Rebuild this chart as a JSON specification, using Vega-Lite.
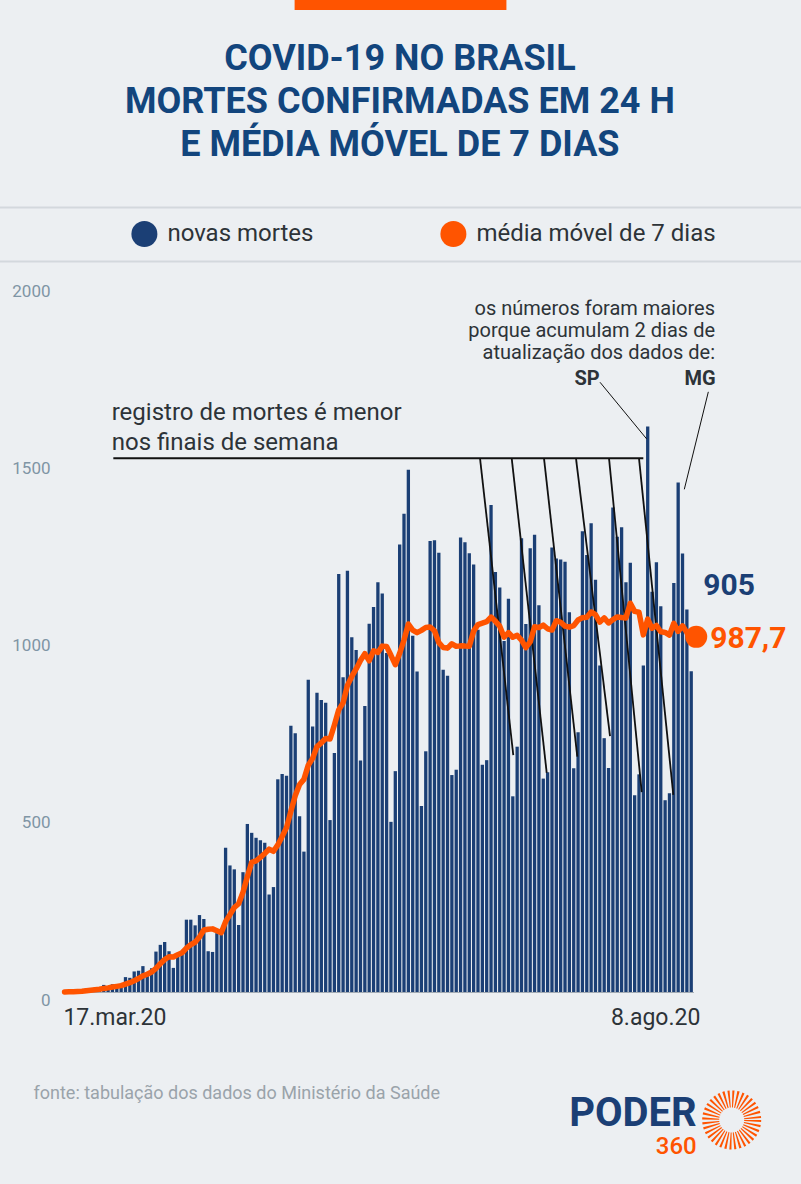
{
  "$schema": "https://vega.github.io/schema/vega-lite/v6.json",
  "width": 631,
  "height": 709,
  "autosize": "none",
  "padding": {"left": 62.4, "top": 283, "right": 107.6, "bottom": 192},
  "background": "#eceff2",
  "title": {
    "text": ["COVID-19 NO BRASIL", "MORTES CONFIRMADAS EM 24 H", "E MÉDIA MÓVEL DE 7 DIAS"],
    "font": "Roboto",
    "fontSize": 36,
    "fontWeight": "bold",
    "color": "#12457d",
    "lineHeight": 43,
    "anchor": "middle",
    "frame": "group",
    "baseline": "top",
    "dx": 22,
    "offset": -165
  },
  "datasets": {
    "covid": [
      {"data": "2020-03-17", "novas": 1, "media": 0.1},
      {"data": "2020-03-18", "novas": 3, "media": 0.6},
      {"data": "2020-03-19", "novas": 2, "media": 0.9},
      {"data": "2020-03-20", "novas": 5, "media": 1.6},
      {"data": "2020-03-21", "novas": 4, "media": 2.1},
      {"data": "2020-03-22", "novas": 10, "media": 3.6},
      {"data": "2020-03-23", "novas": 9, "media": 4.9},
      {"data": "2020-03-24", "novas": 12, "media": 6.4},
      {"data": "2020-03-25", "novas": 11, "media": 7.6},
      {"data": "2020-03-26", "novas": 20, "media": 10.1},
      {"data": "2020-03-27", "novas": 15, "media": 11.6},
      {"data": "2020-03-28", "novas": 22, "media": 14.1},
      {"data": "2020-03-29", "novas": 22, "media": 15.9},
      {"data": "2020-03-30", "novas": 23, "media": 17.9},
      {"data": "2020-03-31", "novas": 42, "media": 22.1},
      {"data": "2020-04-01", "novas": 40, "media": 26.3},
      {"data": "2020-04-02", "novas": 58, "media": 31.7},
      {"data": "2020-04-03", "novas": 60, "media": 38.1},
      {"data": "2020-04-04", "novas": 73, "media": 45.4},
      {"data": "2020-04-05", "novas": 54, "media": 50.0},
      {"data": "2020-04-06", "novas": 67, "media": 56.3},
      {"data": "2020-04-07", "novas": 114, "media": 66.6},
      {"data": "2020-04-08", "novas": 133, "media": 79.9},
      {"data": "2020-04-09", "novas": 141, "media": 91.7},
      {"data": "2020-04-10", "novas": 115, "media": 99.6},
      {"data": "2020-04-11", "novas": 68, "media": 98.9},
      {"data": "2020-04-12", "novas": 99, "media": 105.3},
      {"data": "2020-04-13", "novas": 105, "media": 110.7},
      {"data": "2020-04-14", "novas": 204, "media": 123.6},
      {"data": "2020-04-15", "novas": 204, "media": 133.7},
      {"data": "2020-04-16", "novas": 188, "media": 140.4},
      {"data": "2020-04-17", "novas": 217, "media": 155.0},
      {"data": "2020-04-18", "novas": 206, "media": 174.7},
      {"data": "2020-04-19", "novas": 115, "media": 177.0},
      {"data": "2020-04-20", "novas": 113, "media": 178.1},
      {"data": "2020-04-21", "novas": 166, "media": 172.7},
      {"data": "2020-04-22", "novas": 165, "media": 167.1},
      {"data": "2020-04-23", "novas": 407, "media": 198.4},
      {"data": "2020-04-24", "novas": 357, "media": 218.4},
      {"data": "2020-04-25", "novas": 346, "media": 238.4},
      {"data": "2020-04-26", "novas": 189, "media": 249.0},
      {"data": "2020-04-27", "novas": 338, "media": 281.1},
      {"data": "2020-04-28", "novas": 474, "media": 325.1},
      {"data": "2020-04-29", "novas": 449, "media": 365.7},
      {"data": "2020-04-30", "novas": 435, "media": 369.7},
      {"data": "2020-05-01", "novas": 428, "media": 379.9},
      {"data": "2020-05-02", "novas": 421, "media": 390.6},
      {"data": "2020-05-03", "novas": 275, "media": 402.9},
      {"data": "2020-05-04", "novas": 296, "media": 396.9},
      {"data": "2020-05-05", "novas": 600, "media": 414.9},
      {"data": "2020-05-06", "novas": 615, "media": 438.6},
      {"data": "2020-05-07", "novas": 610, "media": 463.6},
      {"data": "2020-05-08", "novas": 751, "media": 509.7},
      {"data": "2020-05-09", "novas": 730, "media": 553.9},
      {"data": "2020-05-10", "novas": 496, "media": 585.4},
      {"data": "2020-05-11", "novas": 396, "media": 599.7},
      {"data": "2020-05-12", "novas": 881, "media": 639.9},
      {"data": "2020-05-13", "novas": 749, "media": 659.0},
      {"data": "2020-05-14", "novas": 844, "media": 692.4},
      {"data": "2020-05-15", "novas": 824, "media": 702.9},
      {"data": "2020-05-16", "novas": 816, "media": 715.1},
      {"data": "2020-05-17", "novas": 485, "media": 713.6},
      {"data": "2020-05-18", "novas": 674, "media": 753.3},
      {"data": "2020-05-19", "novas": 1179, "media": 795.9},
      {"data": "2020-05-20", "novas": 888, "media": 815.7},
      {"data": "2020-05-21", "novas": 1188, "media": 864.9},
      {"data": "2020-05-22", "novas": 1001, "media": 890.1},
      {"data": "2020-05-23", "novas": 965, "media": 911.4},
      {"data": "2020-05-24", "novas": 653, "media": 935.4},
      {"data": "2020-05-25", "novas": 807, "media": 954.4},
      {"data": "2020-05-26", "novas": 1039, "media": 934.4},
      {"data": "2020-05-27", "novas": 1086, "media": 962.7},
      {"data": "2020-05-28", "novas": 1156, "media": 958.1},
      {"data": "2020-05-29", "novas": 1124, "media": 975.7},
      {"data": "2020-05-30", "novas": 956, "media": 974.4},
      {"data": "2020-05-31", "novas": 480, "media": 949.7},
      {"data": "2020-06-01", "novas": 623, "media": 923.4},
      {"data": "2020-06-02", "novas": 1262, "media": 955.3},
      {"data": "2020-06-03", "novas": 1349, "media": 992.9},
      {"data": "2020-06-04", "novas": 1473, "media": 1038.1},
      {"data": "2020-06-05", "novas": 1005, "media": 1021.1},
      {"data": "2020-06-06", "novas": 904, "media": 1013.7},
      {"data": "2020-06-07", "novas": 525, "media": 1020.1},
      {"data": "2020-06-08", "novas": 679, "media": 1028.1},
      {"data": "2020-06-09", "novas": 1272, "media": 1029.6},
      {"data": "2020-06-10", "novas": 1274, "media": 1018.9},
      {"data": "2020-06-11", "novas": 1239, "media": 985.4},
      {"data": "2020-06-12", "novas": 909, "media": 971.7},
      {"data": "2020-06-13", "novas": 892, "media": 970.0},
      {"data": "2020-06-14", "novas": 612, "media": 982.4},
      {"data": "2020-06-15", "novas": 627, "media": 975.0},
      {"data": "2020-06-16", "novas": 1282, "media": 976.4},
      {"data": "2020-06-17", "novas": 1269, "media": 975.7},
      {"data": "2020-06-18", "novas": 1238, "media": 975.6},
      {"data": "2020-06-19", "novas": 1206, "media": 1018.0},
      {"data": "2020-06-20", "novas": 1022, "media": 1036.6},
      {"data": "2020-06-21", "novas": 641, "media": 1040.7},
      {"data": "2020-06-22", "novas": 654, "media": 1044.6},
      {"data": "2020-06-23", "novas": 1374, "media": 1057.7},
      {"data": "2020-06-24", "novas": 1185, "media": 1045.7},
      {"data": "2020-06-25", "novas": 1141, "media": 1031.9},
      {"data": "2020-06-26", "novas": 990, "media": 1001.0},
      {"data": "2020-06-27", "novas": 1109, "media": 1013.4},
      {"data": "2020-06-28", "novas": 552, "media": 1000.7},
      {"data": "2020-06-29", "novas": 692, "media": 1006.1},
      {"data": "2020-06-30", "novas": 1280, "media": 992.7},
      {"data": "2020-07-01", "novas": 1038, "media": 971.7},
      {"data": "2020-07-02", "novas": 1252, "media": 987.6},
      {"data": "2020-07-03", "novas": 1290, "media": 1030.4},
      {"data": "2020-07-04", "novas": 1091, "media": 1027.9},
      {"data": "2020-07-05", "novas": 602, "media": 1035.0},
      {"data": "2020-07-06", "novas": 620, "media": 1024.7},
      {"data": "2020-07-07", "novas": 1254, "media": 1021.0},
      {"data": "2020-07-08", "novas": 1223, "media": 1047.4},
      {"data": "2020-07-09", "novas": 1220, "media": 1042.9},
      {"data": "2020-07-10", "novas": 1214, "media": 1032.0},
      {"data": "2020-07-11", "novas": 1071, "media": 1029.1},
      {"data": "2020-07-12", "novas": 631, "media": 1033.3},
      {"data": "2020-07-13", "novas": 733, "media": 1049.4},
      {"data": "2020-07-14", "novas": 1300, "media": 1056.0},
      {"data": "2020-07-15", "novas": 1233, "media": 1057.4},
      {"data": "2020-07-16", "novas": 1322, "media": 1072.0},
      {"data": "2020-07-17", "novas": 1163, "media": 1064.7},
      {"data": "2020-07-18", "novas": 921, "media": 1043.3},
      {"data": "2020-07-19", "novas": 716, "media": 1055.4},
      {"data": "2020-07-20", "novas": 632, "media": 1041.0},
      {"data": "2020-07-21", "novas": 1367, "media": 1050.6},
      {"data": "2020-07-22", "novas": 1284, "media": 1057.9},
      {"data": "2020-07-23", "novas": 1311, "media": 1056.3},
      {"data": "2020-07-24", "novas": 1156, "media": 1055.3},
      {"data": "2020-07-25", "novas": 1211, "media": 1096.7},
      {"data": "2020-07-26", "novas": 555, "media": 1073.7},
      {"data": "2020-07-27", "novas": 614, "media": 1071.1},
      {"data": "2020-07-28", "novas": 921, "media": 1007.4},
      {"data": "2020-07-29", "novas": 1595, "media": 1051.9},
      {"data": "2020-07-30", "novas": 1129, "media": 1025.9},
      {"data": "2020-07-31", "novas": 1212, "media": 1033.9},
      {"data": "2020-08-01", "novas": 1088, "media": 1016.3},
      {"data": "2020-08-02", "novas": 541, "media": 1014.3},
      {"data": "2020-08-03", "novas": 561, "media": 1006.7},
      {"data": "2020-08-04", "novas": 1154, "media": 1040.0},
      {"data": "2020-08-05", "novas": 1437, "media": 1017.4},
      {"data": "2020-08-06", "novas": 1237, "media": 1032.9},
      {"data": "2020-08-07", "novas": 1079, "media": 1013.9},
      {"data": "2020-08-08", "novas": 905, "media": 987.7}
    ],
    "faixa": [
      {"de": "2020-05-08T20:40:00Z", "ate": "2020-06-26T12:45:00Z", "topo": 2800, "base": 2770}
    ],
    "separadores": [
      {"de": "2020-02-01T00:00:00Z", "ate": "2020-10-01T00:00:00Z", "nivel": 2213},
      {"de": "2020-02-01T00:00:00Z", "ate": "2020-10-01T00:00:00Z", "nivel": 2060.6}
    ],
    "registro": [
      {"de": "2020-03-28T04:50:00Z", "ate": "2020-07-27T23:45:00Z", "nivel": 1505.5}
    ],
    "fins_de_semana": [
      {"de": "2020-06-20T11:15:00Z", "ate": "2020-06-28T02:40:00Z", "topo": 1505.5, "base": 668},
      {"de": "2020-06-27T18:00:00Z", "ate": "2020-07-05T19:00:00Z", "topo": 1505.5, "base": 618},
      {"de": "2020-07-05T04:05:00Z", "ate": "2020-07-12T19:40:00Z", "topo": 1505.5, "base": 664},
      {"de": "2020-07-12T12:30:00Z", "ate": "2020-07-20T08:10:00Z", "topo": 1505.5, "base": 722},
      {"de": "2020-07-20T02:40:00Z", "ate": "2020-07-27T14:55:00Z", "topo": 1505.5, "base": 564},
      {"de": "2020-07-27T00:00:00Z", "ate": "2020-08-03T21:10:00Z", "topo": 1505.5, "base": 556}
    ],
    "acumulados": [
      {"uf": "SP", "de": "2020-07-18T01:00:00Z", "topo": 1720, "ate": "2020-07-28T18:30:00Z", "base": 1560},
      {"uf": "MG", "de": "2020-08-11T22:20:00Z", "topo": 1693, "ate": "2020-08-06T09:50:00Z", "base": 1418}
    ]
  },
  "data": {"name": "covid"},
  "layer": [
    {
      "data": {"name": "faixa"},
      "mark": {"type": "rect", "color": "#ff5400"},
      "encoding": {
        "x": {"field": "de", "type": "temporal"},
        "x2": {"field": "ate"},
        "y": {"field": "topo", "type": "quantitative"},
        "y2": {"field": "base"}
      }
    },
    {
      "data": {"name": "separadores"},
      "mark": {"type": "rule", "color": "#d3d8dd", "strokeWidth": 2},
      "encoding": {
        "x": {"field": "de", "type": "temporal"},
        "x2": {"field": "ate"},
        "y": {"field": "nivel", "type": "quantitative"}
      }
    },
    {
      "mark": {"type": "bar", "width": 3.3},
      "encoding": {
        "x": {
          "field": "data",
          "type": "temporal",
          "scale": {
            "type": "utc",
            "padding": 0,
            "domain": [
              {"year": 2020, "month": 3, "date": 16, "hours": 12, "utc": true},
              {"year": 2020, "month": 8, "date": 8, "hours": 12, "utc": true}
            ]
          },
          "axis": {
            "title": "fonte: tabulação dos dados do Ministério da Saúde",
            "titleFont": "Roboto",
            "titleFontSize": 18,
            "titleFontWeight": "normal",
            "titleColor": "#9aa3aa",
            "titleAnchor": "start",
            "titleAlign": "left",
            "titleBaseline": "middle",
            "titleX": -29.4,
            "titleY": 101,
            "values": [
              {"year": 2020, "month": 3, "date": 16, "hours": 12, "utc": true},
              {"year": 2020, "month": 8, "date": 8, "hours": 12, "utc": true}
            ],
            "labelExpr": "datum.value < 1590000000000 ? '17.mar.20' : '8.ago.20'",
            "labelFlush": true,
            "labelFlushOffset": 3,
            "labelOffset": 3.5,
            "labelFont": "Roboto",
            "labelFontSize": 23,
            "labelColor": "#2d3338",
            "labelPadding": 14,
            "ticks": false,
            "grid": false,
            "domainColor": "#a3abb3",
            "domainWidth": 1
          }
        },
        "y": {
          "field": "novas",
          "type": "quantitative",
          "scale": {"domain": [0, 2000], "nice": false},
          "axis": {
            "title": null,
            "values": [0, 500, 1000, 1500, 2000],
            "format": "d",
            "domain": false,
            "ticks": false,
            "grid": false,
            "labelFont": "Roboto",
            "labelFontSize": 17,
            "labelColor": "#7f95a5",
            "labelPadding": 12.4,
            "labelBaseline": "top"
          }
        },
        "color": {
          "datum": "novas mortes",
          "type": "nominal",
          "scale": {
            "domain": ["novas mortes", "média móvel de 7 dias"],
            "range": ["#1b3f75", "#ff5400"]
          },
          "legend": {
            "title": null,
            "orient": "none",
            "legendX": 69,
            "legendY": -62,
            "direction": "horizontal",
            "padding": 0,
            "symbolType": "circle",
            "symbolSize": 676,
            "symbolStrokeWidth": 0,
            "symbolOpacity": 1,
            "labelFont": "Roboto",
            "labelFontSize": 24,
            "labelColor": "#2d3338",
            "labelOffset": 10,
            "labelLimit": 400,
            "columnPadding": 126
          }
        }
      }
    },
    {
      "data": {"name": "registro"},
      "mark": {"type": "rule", "color": "#111111", "strokeWidth": 2},
      "encoding": {
        "x": {"field": "de", "type": "temporal"},
        "x2": {"field": "ate"},
        "y": {"field": "nivel", "type": "quantitative"}
      }
    },
    {
      "data": {"name": "fins_de_semana"},
      "mark": {"type": "rule", "color": "#111111", "strokeWidth": 1.8},
      "encoding": {
        "x": {"field": "de", "type": "temporal"},
        "x2": {"field": "ate"},
        "y": {"field": "topo", "type": "quantitative"},
        "y2": {"field": "base"}
      }
    },
    {
      "data": {"name": "acumulados"},
      "mark": {"type": "rule", "color": "#111111", "strokeWidth": 1},
      "encoding": {
        "x": {"field": "de", "type": "temporal"},
        "x2": {"field": "ate"},
        "y": {"field": "topo", "type": "quantitative"},
        "y2": {"field": "base"}
      }
    },
    {
      "mark": {"type": "line", "strokeWidth": 5.5, "strokeJoin": "round", "strokeCap": "round"},
      "encoding": {
        "x": {"field": "data", "type": "temporal"},
        "y": {"field": "media", "type": "quantitative"},
        "color": {"datum": "média móvel de 7 dias", "type": "nominal"}
      }
    },
    {
      "transform": [{"filter": "time(datum.data) == utc(2020, 7, 8)"}],
      "mark": {"type": "point", "filled": true, "opacity": 1, "size": 484, "color": "#ff5400", "xOffset": 5, "yOffset": -5},
      "encoding": {
        "x": {"field": "data", "type": "temporal"},
        "y": {"field": "media", "type": "quantitative"}
      }
    },
    {
      "transform": [{"filter": "time(datum.data) == utc(2020, 7, 8)"}],
      "mark": {"type": "text", "align": "left", "baseline": "middle", "dx": 12, "dy": -85, "font": "Roboto", "fontSize": 30, "fontWeight": "bold", "color": "#1b3f75"},
      "encoding": {
        "x": {"field": "data", "type": "temporal"},
        "y": {"field": "novas", "type": "quantitative"},
        "text": {"field": "novas", "type": "quantitative", "format": "d"}
      }
    },
    {
      "transform": [{"filter": "time(datum.data) == utc(2020, 7, 8)"}],
      "mark": {"type": "text", "align": "left", "baseline": "middle", "dx": 19, "dy": -3, "font": "Roboto", "fontSize": 30, "fontWeight": "bold", "color": "#ff5400"},
      "encoding": {
        "x": {"field": "data", "type": "temporal"},
        "y": {"field": "media", "type": "quantitative"},
        "text": {"field": "media", "type": "quantitative", "format": ".1f"}
      }
    },
    {
      "data": {"values": [{}]},
      "mark": {"type": "text", "align": "left", "baseline": "middle", "font": "Roboto", "fontSize": 24, "lineHeight": 30, "color": "#2d3338"},
      "encoding": {
        "x": {"datum": {"year": 2020, "month": 3, "date": 27, "hours": 19, "minutes": 55, "utc": true}, "type": "temporal"},
        "y": {"datum": 1633, "type": "quantitative"},
        "text": {"value": ["registro de mortes é menor", "nos finais de semana"]}
      }
    },
    {
      "data": {"values": [{}]},
      "mark": {"type": "text", "align": "right", "baseline": "middle", "font": "Roboto", "fontSize": 20, "lineHeight": 22, "color": "#2d3338"},
      "encoding": {
        "x": {"datum": {"year": 2020, "month": 8, "date": 13, "hours": 11, "minutes": 15, "utc": true}, "type": "temporal"},
        "y": {"datum": 1926, "type": "quantitative"},
        "text": {"value": ["os números foram maiores", "porque acumulam 2 dias de", "atualização dos dados de:"]}
      }
    },
    {
      "data": {"values": [{}]},
      "mark": {"type": "text", "align": "center", "baseline": "middle", "font": "Roboto", "fontSize": 20, "fontWeight": "bold", "color": "#2d3338"},
      "encoding": {
        "x": {"datum": {"year": 2020, "month": 7, "date": 15, "hours": 1, "minutes": 30, "utc": true}, "type": "temporal"},
        "y": {"datum": 1729, "type": "quantitative"},
        "text": {"value": "SP"}
      }
    },
    {
      "data": {"values": [{}]},
      "mark": {"type": "text", "align": "center", "baseline": "middle", "font": "Roboto", "fontSize": 20, "fontWeight": "bold", "color": "#2d3338"},
      "encoding": {
        "x": {"datum": {"year": 2020, "month": 8, "date": 10, "hours": 0, "minutes": 30, "utc": true}, "type": "temporal"},
        "y": {"datum": 1729, "type": "quantitative"},
        "text": {"value": "MG"}
      }
    },
    {
      "data": {"values": [{}]},
      "mark": {"type": "text", "align": "right", "baseline": "alphabetic", "font": "Roboto", "fontSize": 40, "fontWeight": "bold", "color": "#1b3f75"},
      "encoding": {
        "x": {"datum": {"year": 2020, "month": 8, "date": 9, "hours": 6, "minutes": 15, "utc": true}, "type": "temporal"},
        "y": {"datum": -378, "type": "quantitative"},
        "text": {"value": "PODER"}
      }
    },
    {
      "data": {"values": [{}]},
      "mark": {"type": "text", "align": "right", "baseline": "alphabetic", "font": "Roboto", "fontSize": 24, "fontWeight": 500, "color": "#ff5400"},
      "encoding": {
        "x": {"datum": {"year": 2020, "month": 8, "date": 9, "hours": 6, "minutes": 30, "utc": true}, "type": "temporal"},
        "y": {"datum": -457, "type": "quantitative"},
        "text": {"value": "360"}
      }
    },
    {
      "data": {"values": [{}]},
      "mark": {"type": "point", "shape": "circle", "filled": false, "size": 1764, "stroke": "#ff5400", "strokeWidth": 17, "strokeDash": [1.6, 2.06], "opacity": 1},
      "encoding": {
        "x": {"datum": {"year": 2020, "month": 8, "date": 17, "hours": 7, "minutes": 10, "utc": true}, "type": "temporal"},
        "y": {"datum": -361, "type": "quantitative"}
      }
    }
  ],
  "config": {
    "view": {"stroke": null},
    "locale": {"number": {"decimal": ",", "thousands": ".", "grouping": [3], "currency": ["R$", ""]}}
  }
}
